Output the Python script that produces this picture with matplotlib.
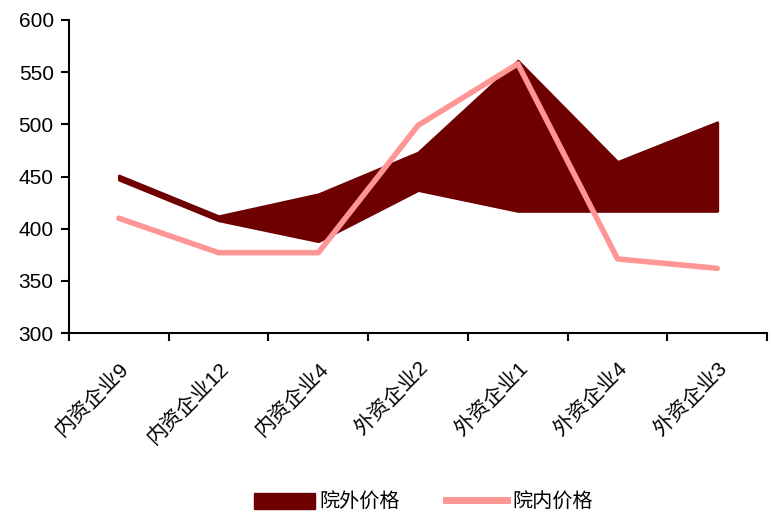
import matplotlib
matplotlib.use('Agg')
import matplotlib.pyplot as plt
from matplotlib.patches import Patch
from matplotlib.lines import Line2D

plt.rcParams['font.family'] = ['Liberation Sans', 'Noto Sans CJK SC', 'DejaVu Sans']

categories = ['内资企业9', '内资企业12', '内资企业4', '外资企业2', '外资企业1', '外资企业4', '外资企业3']
outside_low = [447, 408, 388, 437, 417, 417, 417]
outside_high = [451, 412, 433, 473, 561, 464, 502]
inside_price = [410, 377, 377, 499, 558, 371, 362]

dark = '#6e0000'
pink = '#ff9696'

fig = plt.figure(figsize=(7.71, 5.22), dpi=100)
ax = fig.add_axes([0.0895, 0.362, 0.9055, 0.5997])

x = list(range(len(categories)))
ax.fill_between(x, outside_low, outside_high, color=dark, lw=2, zorder=2)
ax.plot(x, inside_price, color=pink, lw=4, solid_capstyle='round', zorder=3)

ax.set_xlim(-0.5, len(categories) - 0.5)
ax.set_ylim(300, 600)
ax.set_yticks(range(300, 601, 50))
ax.set_xticks([i + 0.5 for i in range(-1, len(categories))], minor=False)
ax.set_xticklabels([])
ax.set_xticks(x, minor=True)
ax.set_xticklabels(categories, minor=True, rotation=45, ha='right', va='top',
                   rotation_mode='anchor', fontsize=15)
ax.tick_params(axis='x', which='minor', length=0, pad=18)
ax.tick_params(axis='x', which='major', direction='out', length=6, width=1.5)
ax.tick_params(axis='y', direction='out', length=6, width=1.5, labelsize=15, pad=5)

for side in ['top', 'right']:
    ax.spines[side].set_visible(False)
for side in ['left', 'bottom']:
    ax.spines[side].set_linewidth(1.5)

handles = [Patch(facecolor=dark, edgecolor=dark, label='院外价格'),
           Line2D([0], [0], color=pink, lw=5, label='院内价格')]
fig.legend(handles=handles, loc='center', bbox_to_anchor=(0.549, 0.038), ncol=2,
           frameon=False, fontsize=14.5, handlelength=3.0, handleheight=0.9,
           columnspacing=2.3, handletextpad=0.25)

fig.savefig('out.png', dpi=100)
